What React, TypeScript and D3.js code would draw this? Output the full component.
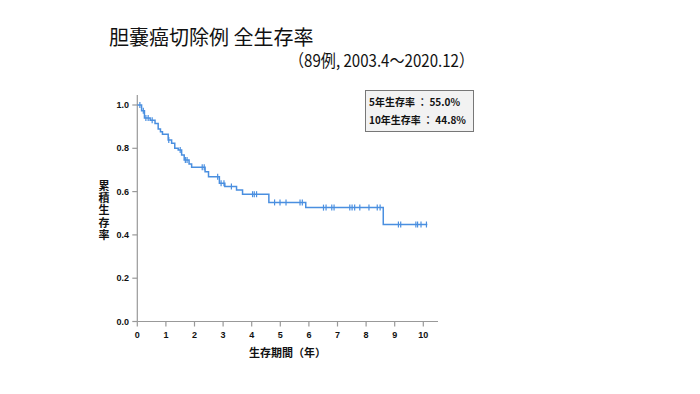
import React from 'react';
import * as d3 from 'd3';

// Kaplan-Meier steps (years, cumulative survival)
const stepTimes = [0, 0.15, 0.25, 0.45, 0.62, 0.73, 0.81, 0.88, 1.08, 1.2, 1.31, 1.43, 1.55, 1.64, 1.81, 1.9, 2.37, 2.49, 2.87, 3.06, 3.47, 3.68, 4.6, 5.89, 8.6];
const survival = [1.0, 0.974, 0.94, 0.93, 0.915, 0.889, 0.876, 0.865, 0.838, 0.823, 0.8, 0.792, 0.769, 0.746, 0.727, 0.712, 0.692, 0.669, 0.638, 0.623, 0.607, 0.588, 0.55, 0.526, 0.448];
const endTime = 10.14;

// censored observations
const censorTimes = [0.09, 0.21, 0.3, 0.38, 0.52, 1.1, 1.5, 1.68, 1.74, 2.27, 2.34, 2.81, 2.93, 3.03, 3.29, 4.03, 4.09, 4.17, 4.8, 4.99, 5.2, 5.69, 5.77, 6.51, 6.6, 6.8, 6.88, 7.43, 7.51, 7.6, 7.78, 8.1, 8.39, 8.49, 9.13, 9.21, 9.74, 9.8, 9.92, 10.11];

const xTicks = [0, 1, 2, 3, 4, 5, 6, 7, 8, 9, 10];
const yTicks = [0, 0.2, 0.4, 0.6, 0.8, 1.0];

const title = '胆嚢癌切除例 全生存率';
const subtitle = '（89例, 2003.4～2020.12）';
const legendLines = ['5年生存率 ： 55.0%', '10年生存率 ： 44.8%'];
const yLabel = '累積生存率';
const xLabel = '生存期間（年）';

const lineColor = '#4a8fe0';
const axisColor = '#999';
const jp = '"Noto Sans CJK JP", "Liberation Sans", sans-serif';
const num = '"Liberation Sans", Arial, sans-serif';

export default function App() {
    const x = d3.scaleLinear().domain([0, 10]).range([137.3, 423.3]);
    const y = d3.scaleLinear().domain([0, 1]).range([321.5, 105]);

    const pts: [number, number][] = stepTimes.map((t, i) => [t, survival[i]]);
    pts.push([endTime, survival[survival.length - 1]]);
    const line = d3.line<[number, number]>()
        .x(d => x(d[0]))
        .y(d => y(d[1]))
        .curve(d3.curveStepAfter);

    const survAt = (t: number) => {
        let s = survival[0];
        stepTimes.forEach((st, i) => { if (st <= t) s = survival[i]; });
        return s;
    };

    return (
        <svg width={700} height={394} style={{ position: 'absolute', left: 0, top: 0, background: '#fff' }}>
            <text x={109} y={45} fontFamily={jp} fontSize={20} fill="#111">{title}</text>
            <text x={289} y={67} fontFamily={jp} fontSize={17} fill="#111" textLength={185} lengthAdjust="spacingAndGlyphs">{subtitle}</text>

            {/* axes */}
            <line x1={x(0)} x2={x(0)} y1={95} y2={y(0)} stroke={axisColor} strokeWidth={1.2} />
            <line x1={x(0)} x2={438} y1={y(0)} y2={y(0)} stroke={axisColor} strokeWidth={1.2} />
            {yTicks.map(v => (
                <g key={'y' + v}>
                    <line x1={x(0) - 5} x2={x(0)} y1={y(v)} y2={y(v)} stroke={axisColor} strokeWidth={1.2} />
                    <text x={129} y={y(v)} dy="0.35em" textAnchor="end" fontFamily={num} fontWeight="bold" fontSize={9} fill="#111">{v.toFixed(1)}</text>
                </g>
            ))}
            {xTicks.map(v => (
                <g key={'x' + v}>
                    <line x1={x(v)} x2={x(v)} y1={y(0)} y2={y(0) + 5} stroke={axisColor} strokeWidth={1.2} />
                    <text x={x(v)} y={338} textAnchor="middle" fontFamily={num} fontWeight="bold" fontSize={9} fill="#111">{v}</text>
                </g>
            ))}

            {/* curve */}
            <path d={line(pts) || ''} fill="none" stroke={lineColor} strokeWidth={1.5} />
            {censorTimes.map((t, i) => (
                <line key={'c' + i} x1={x(t)} x2={x(t)} y1={y(survAt(t)) - 3} y2={y(survAt(t)) + 3} stroke={lineColor} strokeWidth={1.2} />
            ))}

            {/* legend box */}
            <rect x={365.5} y={90.5} width={108} height={41} fill="#f2f2f2" stroke="#777" strokeWidth={1} />
            {legendLines.map((s, i) => (
                <text key={s} x={369} y={106 + i * 18} fontFamily={jp} fontWeight="bold" fontSize={10} fill="#111">{s}</text>
            ))}

            {/* axis labels */}
            <text x={104} y={180} style={{ writingMode: 'vertical-rl', textOrientation: 'upright' }} fontFamily={jp} fontWeight="bold" fontSize={11} letterSpacing={1.3} fill="#111">{yLabel}</text>
            <text x={287.5} y={357} textAnchor="middle" fontFamily={jp} fontWeight="bold" fontSize={11} fill="#111">{xLabel}</text>
        </svg>
    );
}
